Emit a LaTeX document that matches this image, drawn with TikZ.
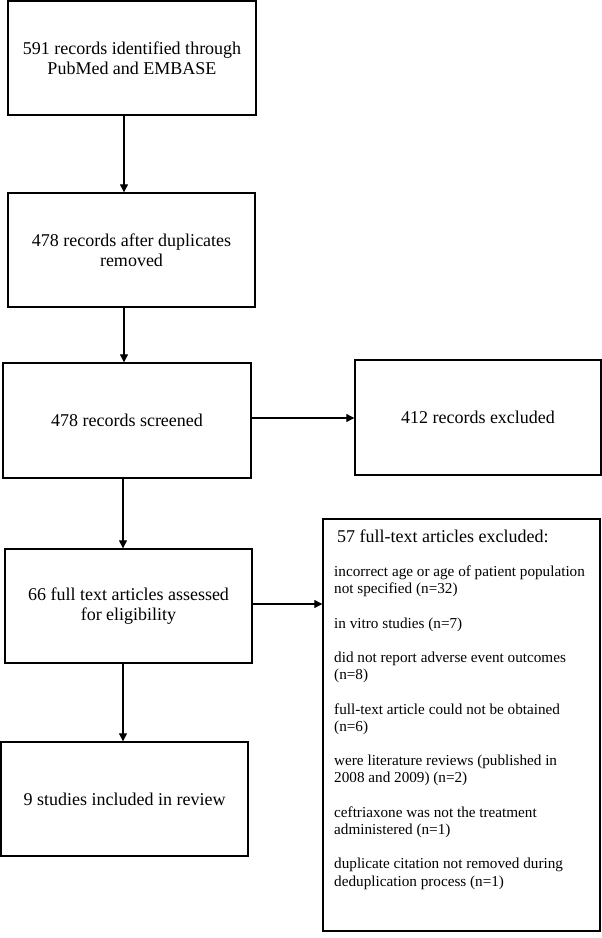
\documentclass[tikz,border=0pt]{standalone}
\usepackage{fontspec}
\setmainfont{Liberation Serif}
\newfontfamily\tnr{Liberation Serif}
\usetikzlibrary{arrows.meta}
\begin{document}
\begin{tikzpicture}[x=1pt,y=-1pt,
  box/.style={draw, line width=1.4pt, rectangle, inner sep=0pt, align=center,
    font=\tnr\fontsize{18}{20}\selectfont},
  arr/.style={line width=1.2pt, -{Triangle[length=8pt,width=8pt]}},
  txt/.style={inner sep=0pt, align=left, anchor=base west}
]
\useasboundingbox (0,0) rectangle (602,938);
\fill[white] (0,0) rectangle (602,938);

\node[box, minimum width=248pt, minimum height=114pt] (b1) at (132,58)
  {591 records identified through\\PubMed and EMBASE};
\node[box, minimum width=247pt, minimum height=114pt] (b2) at (131.5,250)
  {478 records after duplicates\\removed};
\node[box, minimum width=248pt, minimum height=115pt] (b3) at (127,420.5)
  {478 records screened};
\node[box, minimum width=246pt, minimum height=115pt] (b4) at (478,417.5)
  {412 records excluded};
\node[box, minimum width=247pt, minimum height=114pt] (b5) at (128.5,606)
  {66 full text articles assessed\\for eligibility};
\node[box, minimum width=247pt, minimum height=114pt] (b6) at (124.5,799)
  {9 studies included in review};
\node[box, minimum width=277pt, minimum height=412pt] (b7) at (461.5,725) {};

\node[txt, font=\tnr\fontsize{18}{20}\selectfont] (h7) at (337,542)
  {57 full-text articles excluded:};
\node[txt, font=\tnr\fontsize{15.2}{17.2}\selectfont] (i7) at (334,886)
  {incorrect age or age of patient population\\
   not specified (n=32)\\[17.2pt]
   in vitro studies (n=7)\\[17.2pt]
   did not report adverse event outcomes\\
   (n=8)\\[17.2pt]
   full-text article could not be obtained\\
   (n=6)\\[17.2pt]
   were literature reviews (published in\\
   2008 and 2009) (n=2)\\[17.2pt]
   ceftriaxone was not the treatment\\
   administered (n=1)\\[17.2pt]
   duplicate citation not removed during\\
   deduplication process (n=1)};

\coordinate (c1) at (124,0);
\coordinate (c2) at (123,0);
\coordinate (r1) at (0,418);
\coordinate (r2) at (0,604);

\draw[arr] (b1.south -| c1) -- (b2.north -| c1);
\draw[arr] (b2.south -| c1) -- (b3.north -| c1);
\draw[arr] (b3.south -| c2) -- (b5.north -| c2);
\draw[arr] (b5.south -| c2) -- (b6.north -| c2);
\draw[arr] (b3.east |- r1) -- (b4.west |- r1);
\draw[arr] (b5.east |- r2) -- (b7.west |- r2);
\end{tikzpicture}
\end{document}
